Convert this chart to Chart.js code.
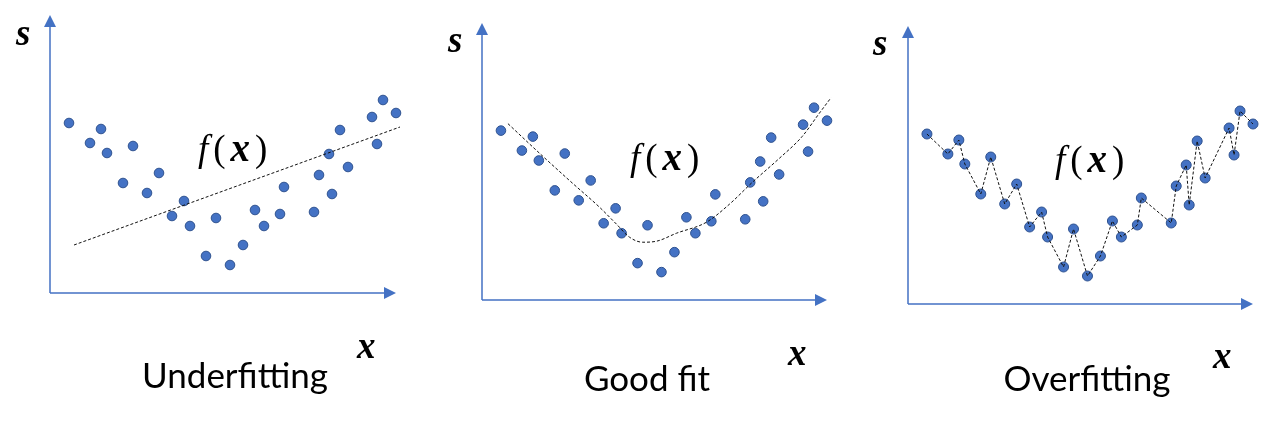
<!DOCTYPE html>
<html>
<head>
<meta charset="utf-8">
<script src="https://cdn.jsdelivr.net/npm/chart.js@4"></script>
<style>
html,body{margin:0;padding:0;background:#fff;}
#wrap{position:relative;width:1267px;height:423px;overflow:hidden;}
canvas{position:absolute;top:0;}
.lbl{position:absolute;white-space:nowrap;line-height:1;color:#000;}
.var{font-family:"Liberation Serif",serif;font-style:italic;font-weight:bold;font-size:37px;}
.fx{font-family:"Liberation Serif",serif;font-size:37px;letter-spacing:5px;}
.fx i{font-style:italic;}
.fx b{font-style:italic;font-weight:bold;font-size:39px;}
.cap{font-family:Lato,"Open Sans",sans-serif;font-size:35px;transform:translateX(-50%);}
</style>
</head>
<body>
<div id="wrap">
<canvas id="c1" width="422" height="423" style="left:0px"></canvas>
<canvas id="c2" width="423" height="423" style="left:422px"></canvas>
<canvas id="c3" width="422" height="423" style="left:845px"></canvas>

<div class="lbl var" style="left:16px;top:14px">s</div>
<div class="lbl var" style="left:357px;top:327px">x</div>
<div class="lbl fx" style="left:198px;top:128px"><i>f</i>(<b>x</b>)</div>
<div class="lbl cap" style="left:235px;top:357px">Underfitting</div>

<div class="lbl var" style="left:448px;top:21px">s</div>
<div class="lbl var" style="left:788px;top:334px">x</div>
<div class="lbl fx" style="left:630px;top:137px"><i>f</i>(<b>x</b>)</div>
<div class="lbl cap" style="left:647px;top:360px">Good fit</div>

<div class="lbl var" style="left:873px;top:24px">s</div>
<div class="lbl var" style="left:1213px;top:337px">x</div>
<div class="lbl fx" style="left:1055px;top:139px"><i>f</i>(<b>x</b>)</div>
<div class="lbl cap" style="left:1087px;top:360px">Overfitting</div>
</div>
<script>
// shared observations (same scatter in all three panels)
const xVals = [1.9,4.0,5.1,5.7,7.3,8.3,9.7,10.9,12.2,13.4,14.0,15.6,16.6,18.0,19.3,20.5,21.4,23.0,23.4,26.4,26.9,27.9,28.2,29.0,29.8,32.2,32.7,33.3,34.6];
const sVals = [17.0,15.0,16.4,14.0,11.0,14.7,10.0,12.0,7.7,9.2,6.7,3.7,7.5,2.8,4.8,8.3,6.7,7.9,10.6,8.1,11.8,13.9,9.9,16.3,12.6,17.6,14.9,19.3,18.0];
// underfitting: straight line
const underX = [2.4,35.0];
const underS = [4.8,16.6];
// good fit: smooth curve
const goodX = [2.6,5.8,9.1,11.8,13.5,14.8,16.1,17.5,19.5,22.5,24.8,27.1,29.8,32.1,33.8,35.0];
const goodS = [17.7,14.7,11.7,9.3,7.6,6.3,5.8,5.9,6.7,7.8,9.6,11.8,14.2,16.4,18.7,20.3];
// axis extents
const X_MAX = 34.6;
const S_MAX = 27.8;

const AXIS = '#4472C4';
const PT_FILL = '#4472C4';
const PT_EDGE = '#2F528F';

function pts(xs, ys){ return xs.map((x,i)=>({x:x, y:ys[i]})); }

const axesPlugin = {
  id:'arrowAxes',
  beforeDatasetsDraw(chart){
    const ctx = chart.ctx, xs = chart.scales.x, ys = chart.scales.y;
    const x0 = xs.getPixelForValue(0), y0 = ys.getPixelForValue(0);
    const xt = xs.getPixelForValue(X_MAX), yt = ys.getPixelForValue(S_MAX);
    const L = 12, W = 6;
    ctx.save();
    ctx.strokeStyle = AXIS; ctx.fillStyle = AXIS; ctx.lineWidth = 1.5;
    ctx.beginPath();
    ctx.moveTo(x0, y0); ctx.lineTo(x0, yt + L);
    ctx.moveTo(x0, y0); ctx.lineTo(xt - L, y0);
    ctx.stroke();
    ctx.beginPath();
    ctx.moveTo(x0, yt); ctx.lineTo(x0 - W, yt + L); ctx.lineTo(x0 + W, yt + L); ctx.closePath(); ctx.fill();
    ctx.beginPath();
    ctx.moveTo(xt, y0); ctx.lineTo(xt - L, y0 - W); ctx.lineTo(xt - L, y0 + W); ctx.closePath(); ctx.fill();
    ctx.restore();
  }
};

function scatterSet(r){
  return {type:'scatter', data:pts(xVals,sVals), pointRadius:r, pointBackgroundColor:PT_FILL,
          pointBorderColor:PT_EDGE, pointBorderWidth:1, showLine:false, clip:false, order:1};
}
function lineSet(xs, ys, mode){
  return {type:'line', data:pts(xs,ys), borderColor:'#111', borderWidth:1, borderDash:[3,2],
          pointRadius:0, fill:false, clip:false, cubicInterpolationMode: mode||'default',
          tension: mode ? 0.4 : 0, order: 0};
}

function make(id, pad, datasets){
  new Chart(document.getElementById(id), {
    type:'scatter',
    data:{datasets:datasets},
    options:{
      responsive:false, animation:false, devicePixelRatio:1,
      layout:{padding:pad},
      plugins:{legend:{display:false}, tooltip:{enabled:false}},
      scales:{
        x:{type:'linear', min:0, max:X_MAX, display:false},
        y:{type:'linear', min:0, max:S_MAX, display:false}
      }
    },
    plugins:[axesPlugin]
  });
}

make('c1', {left:50, top:15, right:26, bottom:130}, [lineSet(underX, underS), scatterSet(4.8)]);
make('c2', {left:60, top:23, right:18, bottom:123}, [lineSet(goodX, goodS, 'monotone'), scatterSet(4.8)]);
make('c3', {left:63, top:26, right:14, bottom:119}, [scatterSet(5), lineSet(xVals, sVals)]);
</script>
</body>
</html>
